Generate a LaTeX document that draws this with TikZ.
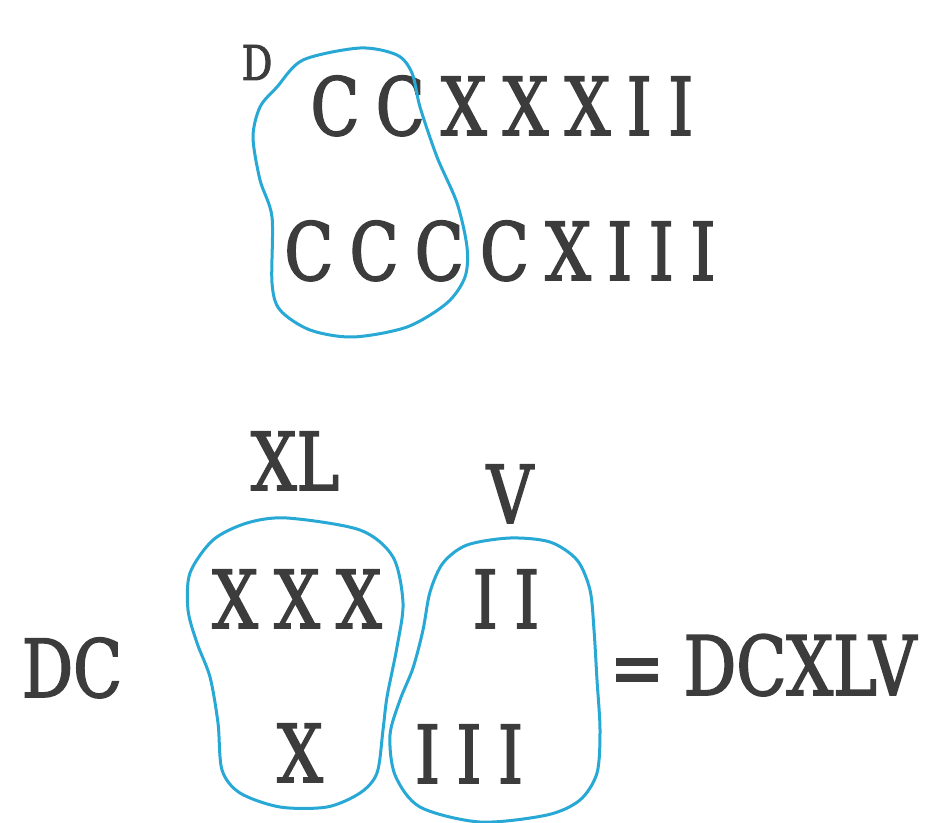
\documentclass[tikz,border=0pt]{standalone}
\usepackage{fontspec}
\setmainfont{DejaVu Serif}[FakeStretch=0.8, FakeBold=2, WordSpace=0.8]
\definecolor{ink}{RGB}{60,60,60}
\definecolor{lassoblue}{RGB}{40,168,212}

\begin{document}
\begin{tikzpicture}[
    x=0.5pt, y=-0.5pt,
    every node/.style={inner sep=0pt, anchor=base, text=ink}
]

\tikzset{rom/.style={font=\fontsize{40}{48}\selectfont}}
\tikzset{lasso/.style={draw=lassoblue, line width=1.5pt}}

\useasboundingbox (0,0) rectangle (925,823);

% ================= addition =================

\node[font=\fontsize{24}{28}\selectfont] (d) at (257,80) {D};
\node[rom] (row1) at (502,135) {C C X X X I I};
\node[rom] (row2) at (500,280) {C C C C X I I I};

\draw[lasso] plot[smooth cycle] coordinates {
    (303,60) (360,48) (397,55) (412,73) (420,107) (437,157) (457,203)
    (467,247) (465,277) (447,303) (407,327) (353,337) (310,330) (280,310)
    (272,283) (272,217) (260,180) (253,137) (260,107) (277,87)};

% ================= regroupement =================

\node[rom] (xl)  at (295,490) {XL};
\node[rom] (v)   at (510,523) {V};
\node[rom] (xxx) at (297,628) {X X X};
\node[rom] (ii)  at (506,628) {I I};
\node[rom] (x)   at (300,782) {X};
\node[rom] (iii) at (469,783) {I I I};
\node[rom] (dc)  at (72,697)  {DC};
\node[rom] (eq)  at (637,695) {=};
\node[font=\fontsize{41}{48}\selectfont] (res) at (800,695) {DCXLV};

\draw[lasso] plot[smooth cycle] coordinates {
    (287,518) (360,530) (393,557) (403,603) (397,647) (387,697) (383,730)
    (377,773) (360,793) (327,807) (280,807) (240,793) (222,770) (218,723)
    (210,677) (197,643) (188,610) (190,573) (213,540) (247,523)};

\draw[lasso] plot[smooth cycle] coordinates {
    (510,538) (550,542) (577,560) (590,590) (594,630) (597,680) (600,730)
    (597,773) (580,800) (547,815) (480,822) (420,807) (395,775) (390,735)
    (400,700) (413,668) (423,630) (430,592) (443,563) (467,545)};

\end{tikzpicture}
\end{document}
